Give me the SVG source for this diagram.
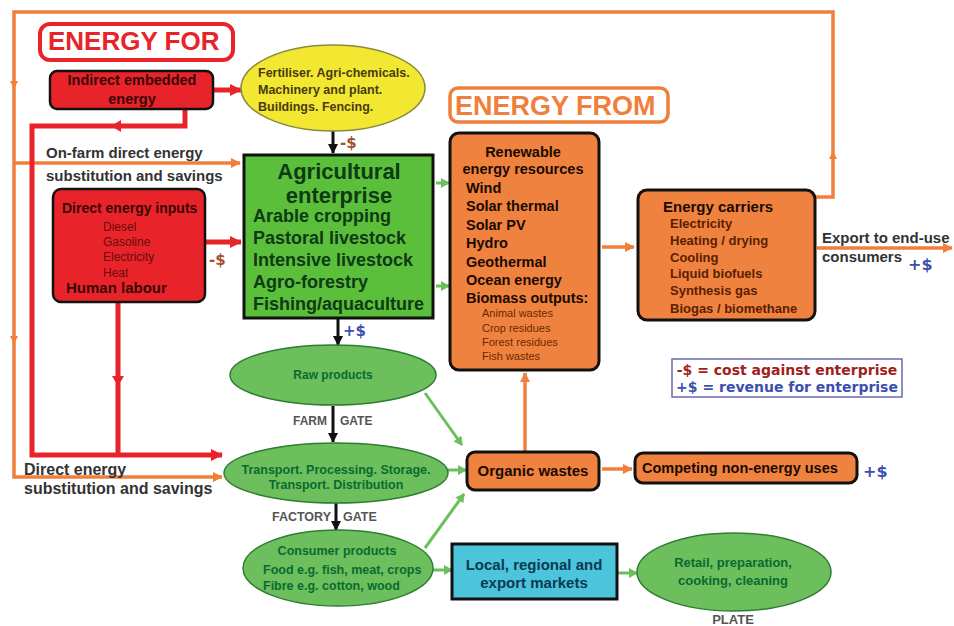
<svg xmlns="http://www.w3.org/2000/svg" width="954" height="626" viewBox="0 0 954 626">
<style>
text{font-family:"Liberation Sans",Arial,sans-serif;font-weight:bold}
.red{fill:#e8242a;stroke:#111;stroke-width:2.5}
.org{fill:#f0823f;stroke:#111;stroke-width:3}
.gel{fill:#6cbf5c;stroke:#2e7d32;stroke-width:1.5}
.lr{fill:none;stroke:#e8242a;stroke-width:5}
.lo{fill:none;stroke:#f07f3c;stroke-width:3.5}
.lg{fill:none;stroke:#6cbf5c;stroke-width:3}
.lk{fill:none;stroke:#111;stroke-width:3}
.ttr{fill:#3a0505}
.ttri{fill:#6a0a0a;font-weight:normal}
.tg{fill:#0a6a30}
.tag{fill:#0d3b14}
.tor{fill:#1a0a00}
.tori{fill:#6a2a00;font-weight:normal}
.toc{fill:#5a2000}
.gray{fill:#555}
.blue{fill:#3a4fb0;font-family:"DejaVu Sans",Verdana,sans-serif}
.brown{fill:#a0522d;font-family:"DejaVu Sans",Verdana,sans-serif}
.sub{fill:#333}
</style>
<defs>
<marker id="ah-red" markerWidth="12" markerHeight="12" refX="11" refY="6" orient="auto" markerUnits="userSpaceOnUse"><path d="M0,0 L12,6 L0,12 z" fill="#e8242a"/></marker>
<marker id="ah-org" markerWidth="10" markerHeight="10" refX="9" refY="5" orient="auto" markerUnits="userSpaceOnUse"><path d="M0,0 L10,5 L0,10 z" fill="#f07f3c"/></marker>
<marker id="ah-grn" markerWidth="9" markerHeight="10" refX="8" refY="5" orient="auto" markerUnits="userSpaceOnUse"><path d="M0,0 L9,5 L0,10 z" fill="#6cbf5c"/></marker>
<marker id="ah-blk" markerWidth="10" markerHeight="10" refX="9" refY="5" orient="auto" markerUnits="userSpaceOnUse"><path d="M0,0 L10,5 L0,10 z" fill="#111"/></marker>
</defs>
<rect width="954" height="626" fill="#fff"/>

<g id="connectors">
  <!-- orange outer loop -->
  <path class="lo" d="M815,197 H833 V12 H14 V477 H222" marker-end="url(#ah-org)"/>
  <path class="lo" d="M14,163 H240" marker-end="url(#ah-org)"/>
  <path d="M829,159 L833,151 L837,159 z" fill="#f07f3c"/>
  <path d="M10,81 L14,89 L18,81 z" fill="#f07f3c"/>
  <path d="M10,336 L14,344 L18,336 z" fill="#f07f3c"/>
  <!-- red lines -->
  <path class="lr" d="M213,90 H241" marker-end="url(#ah-red)"/>
  <path class="lr" d="M185,109 V126 H32 V455 H222" marker-end="url(#ah-red)"/>
  <path d="M121,120 L111,126 L121,132 z" fill="#e8242a"/>
  <path class="lr" d="M118,302 V455"/>
  <path d="M112,376 L118,386 L124,376 z" fill="#e8242a"/>
  <path class="lr" d="M205,242 H241" marker-end="url(#ah-red)"/>
  <!-- black -->
  <path class="lk" d="M333,131 V153" marker-end="url(#ah-blk)"/>
  <path class="lk" d="M338,319 V345" marker-end="url(#ah-blk)"/>
  <path class="lk" d="M333,406 V442" marker-end="url(#ah-blk)"/>
  <path class="lk" d="M336,503 V530" marker-end="url(#ah-blk)"/>
  <!-- green -->
  <path class="lg" d="M436,183 H449" marker-end="url(#ah-grn)"/>
  <path class="lg" d="M436,286 H449" marker-end="url(#ah-grn)"/>
  <path class="lg" d="M425,393 L462,445" marker-end="url(#ah-grn)"/>
  <path class="lg" d="M448,470 H466" marker-end="url(#ah-grn)"/>
  <path class="lg" d="M425,548 L464,494" marker-end="url(#ah-grn)"/>
  <path class="lg" d="M433,570 H452" marker-end="url(#ah-grn)"/>
  <path class="lg" d="M617,573 H637" marker-end="url(#ah-grn)"/>
  <!-- orange -->
  <path class="lo" d="M525,452 V373" marker-end="url(#ah-org)"/>
  <path class="lo" d="M602,469 H632" marker-end="url(#ah-org)"/>
  <path class="lo" d="M602,247 H634" marker-end="url(#ah-org)"/>
  <path class="lo" d="M817,248 H952" marker-end="url(#ah-org)"/>
</g>

<g id="energy-for">
  <rect x="40" y="24" width="193" height="36" rx="10" fill="#fff" stroke="#e8242a" stroke-width="4"/>
  <text x="48" y="50" font-size="26" fill="#e8242a">ENERGY FOR</text>
</g>

<g id="indirect">
  <rect class="red" x="50" y="71" width="163" height="38" rx="7"/>
  <text class="ttr" x="132" y="85" font-size="14.5" text-anchor="middle">Indirect embedded</text>
  <text class="ttr" x="132" y="104" font-size="14.5" text-anchor="middle">energy</text>
</g>

<g id="fertiliser">
  <ellipse cx="333" cy="88" rx="92" ry="43" fill="#f2e832" stroke="#8a8a40" stroke-width="1.5"/>
  <text x="258" y="77" font-size="12.5" fill="#4a3a10">Fertiliser. Agri-chemicals.</text>
  <text x="258" y="94" font-size="12.5" fill="#4a3a10">Machinery and plant.</text>
  <text x="258" y="111" font-size="12.5" fill="#4a3a10">Buildings. Fencing.</text>
</g>
<text class="brown" x="340" y="148" font-size="15">-$</text>

<g id="onfarm-label">
  <text class="sub" x="46" y="158" font-size="15">On-farm direct energy</text>
  <text class="sub" x="46" y="181" font-size="15">substitution and savings</text>
</g>

<g id="direct-inputs">
  <rect class="red" x="53" y="189" width="152" height="113" rx="8"/>
  <text class="ttr" x="62" y="213" font-size="14">Direct energy inputs</text>
  <text class="ttri" x="103" y="231" font-size="12">Diesel</text>
  <text class="ttri" x="103" y="246" font-size="12">Gasoline</text>
  <text class="ttri" x="103" y="261" font-size="12">Electricity</text>
  <text class="ttri" x="103" y="277" font-size="12">Heat</text>
  <text class="ttr" x="66" y="293" font-size="15">Human labour</text>
</g>
<text class="brown" x="209" y="265" font-size="15">-$</text>

<g id="agri">
  <rect x="244" y="155" width="189" height="163" fill="#5cbf3c" stroke="#111" stroke-width="3"/>
  <text class="tag" x="339" y="179" font-size="22" text-anchor="middle">Agricultural</text>
  <text class="tag" x="339" y="203" font-size="22" text-anchor="middle">enterprise</text>
  <text class="tag" x="253" y="222" font-size="18">Arable cropping</text>
  <text class="tag" x="253" y="244" font-size="18">Pastoral livestock</text>
  <text class="tag" x="253" y="266" font-size="18">Intensive livestock</text>
  <text class="tag" x="253" y="288" font-size="18">Agro-forestry</text>
  <text class="tag" x="253" y="310" font-size="18">Fishing/aquaculture</text>
</g>
<text class="blue" x="343" y="336" font-size="15">+$</text>

<g id="energy-from">
  <rect x="450" y="88" width="218" height="34" rx="8" fill="#fff" stroke="#f07f3c" stroke-width="3.5"/>
  <text x="455" y="115" font-size="27" fill="#f07f3c">ENERGY FROM</text>
</g>

<g id="renewable">
  <rect class="org" x="450" y="133" width="149" height="237" rx="9"/>
  <text class="tor" x="523" y="157" font-size="14.5" text-anchor="middle">Renewable</text>
  <text class="tor" x="523" y="174" font-size="14.5" text-anchor="middle">energy resources</text>
  <text class="tor" x="466" y="193" font-size="14.5">Wind</text>
  <text class="tor" x="466" y="211" font-size="14.5">Solar thermal</text>
  <text class="tor" x="466" y="230" font-size="14.5">Solar PV</text>
  <text class="tor" x="466" y="248" font-size="14.5">Hydro</text>
  <text class="tor" x="466" y="267" font-size="14.5">Geothermal</text>
  <text class="tor" x="466" y="285" font-size="14.5">Ocean energy</text>
  <text class="tor" x="466" y="303" font-size="14.5">Biomass outputs:</text>
  <text class="tori" x="482" y="317" font-size="11">Animal wastes</text>
  <text class="tori" x="482" y="332" font-size="11">Crop residues</text>
  <text class="tori" x="482" y="346" font-size="11">Forest residues</text>
  <text class="tori" x="482" y="360" font-size="11">Fish wastes</text>
</g>

<g id="carriers">
  <rect class="org" x="638" y="190" width="177" height="130" rx="9"/>
  <text class="tor" x="663" y="212" font-size="15">Energy carriers</text>
  <text class="toc" x="670" y="228" font-size="13">Electricity</text>
  <text class="toc" x="670" y="245" font-size="13">Heating / drying</text>
  <text class="toc" x="670" y="262" font-size="13">Cooling</text>
  <text class="toc" x="670" y="278" font-size="13">Liquid biofuels</text>
  <text class="toc" x="670" y="295" font-size="13">Synthesis gas</text>
  <text class="toc" x="670" y="313" font-size="13">Biogas / biomethane</text>
</g>

<g id="export-label">
  <text class="sub" x="822" y="243" font-size="15">Export to end-use</text>
  <text class="sub" x="822" y="262" font-size="15">consumers</text>
  <text class="blue" x="908" y="270" font-size="16">+$</text>
</g>

<g id="legend">
  <rect x="672" y="359" width="230" height="38" fill="#fff" stroke="#6a6ab0" stroke-width="1.5"/>
  <text x="787" y="375" font-size="14" text-anchor="middle" fill="#a02020" style="font-family:'DejaVu Sans',Verdana,sans-serif">-$ = cost against enterprise</text>
  <text x="787" y="392" font-size="14" text-anchor="middle" fill="#3a4fb0" style="font-family:'DejaVu Sans',Verdana,sans-serif">+$ = revenue for enterprise</text>
</g>

<g id="raw">
  <ellipse class="gel" cx="333" cy="375" rx="103" ry="30"/>
  <text class="tg" x="333" y="379" font-size="12" text-anchor="middle">Raw products</text>
</g>
<g id="farm-gate">
  <text class="gray" x="327" y="425" font-size="12" text-anchor="end">FARM</text>
  <text class="gray" x="340" y="425" font-size="12">GATE</text>
</g>

<g id="transport">
  <ellipse class="gel" cx="336" cy="473" rx="112" ry="30"/>
  <text class="tg" x="336" y="474" font-size="12.5" text-anchor="middle">Transport. Processing. Storage.</text>
  <text class="tg" x="336" y="489" font-size="12.5" text-anchor="middle">Transport. Distribution</text>
</g>
<g id="factory-gate">
  <text class="gray" x="331" y="521" font-size="12.5" text-anchor="end">FACTORY</text>
  <text class="gray" x="343" y="521" font-size="12.5">GATE</text>
</g>

<g id="direct-sub-label">
  <text class="sub" x="24" y="475" font-size="16">Direct energy</text>
  <text class="sub" x="24" y="494" font-size="16">substitution and savings</text>
</g>

<g id="consumer">
  <ellipse class="gel" cx="338" cy="568" rx="95" ry="38"/>
  <text class="tg" x="337" y="555" font-size="12.5" text-anchor="middle">Consumer products</text>
  <text class="tg" x="263" y="574" font-size="12.5">Food e.g. fish, meat, crops</text>
  <text class="tg" x="263" y="590" font-size="12.5">Fibre e.g. cotton, wood</text>
</g>

<g id="organic">
  <rect class="org" x="467" y="452" width="132" height="38" rx="8" stroke-width="2.5"/>
  <text class="tor" x="533" y="476" font-size="15" text-anchor="middle">Organic wastes</text>
</g>

<g id="competing">
  <rect class="org" x="635" y="453" width="222" height="30" rx="8" stroke-width="2"/>
  <text class="tor" x="642" y="473" font-size="14.5">Competing non-energy uses</text>
</g>
<text class="blue" x="863" y="477" font-size="16">+$</text>

<g id="markets">
  <rect x="452" y="544" width="165" height="55" fill="#4cc4dc" stroke="#111" stroke-width="3"/>
  <text x="534" y="570" font-size="15" text-anchor="middle" fill="#0a3a50">Local, regional and</text>
  <text x="534" y="588" font-size="15" text-anchor="middle" fill="#0a3a50">export markets</text>
</g>

<g id="retail">
  <ellipse class="gel" cx="734" cy="572" rx="97" ry="39"/>
  <text class="tg" x="733" y="567" font-size="13" text-anchor="middle">Retail, preparation,</text>
  <text class="tg" x="733" y="585" font-size="13" text-anchor="middle">cooking, cleaning</text>
  <text class="gray" x="733" y="624" font-size="13" text-anchor="middle">PLATE</text>
</g>
</svg>
